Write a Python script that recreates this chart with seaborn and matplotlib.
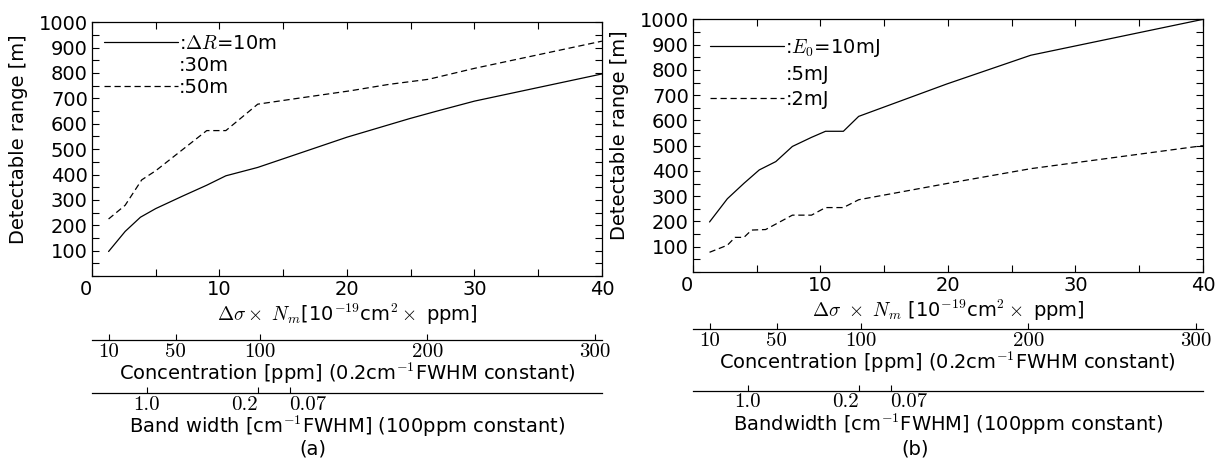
import numpy as np
import pandas as pd
import matplotlib
matplotlib.use('Agg')
import matplotlib.pyplot as plt
import seaborn as sns
from matplotlib.lines import Line2D
from matplotlib.ticker import MultipleLocator, NullLocator

# (a) detectable range vs delta sigma x Nm, range resolution
x_a10 = [1.3, 2.6, 3.8, 5.0, 7.1, 9.0, 10.5, 13.0, 20.0, 24.9, 27.0, 30.0, 40.0]
y_a10 = [97, 176, 232, 266, 315, 358, 395, 428, 547, 620, 649, 689, 796]
x_a50 = [1.3, 2.6, 3.9, 5.0, 9.0, 10.5, 13.0, 16.0, 20.3, 23.3, 26.4, 30.0, 40.0]
y_a50 = [225, 279, 379, 415, 573, 573, 677, 699, 730, 755, 775, 818, 925]

# (b) detectable range vs delta sigma x Nm, pulse energy
x_b10 = [1.3, 2.7, 4.0, 5.2, 6.5, 7.8, 9.3, 10.4, 11.8, 13.0, 19.9, 26.5, 40.0]
y_b10 = [198, 290, 351, 404, 437, 497, 533, 557, 557, 616, 744, 858, 1000]
x_b2 = [1.3, 2.7, 3.3, 4.0, 4.6, 5.7, 7.8, 9.3, 10.4, 11.8, 13.0, 19.9, 26.5, 40.0]
y_b2 = [78, 106, 137, 137, 166, 168, 225, 225, 255, 255, 286, 350, 409, 500]

# secondary scales
conc_ticks = [10, 50, 100, 200, 300]
conc_scale = 0.1315          # delta sigma x Nm per ppm
bw_pos = [4.3, 13.0, 15.5]
bw_labels = ['1.0', '0.2', '0.07']

sns.set_style('ticks')
plt.rcParams['font.family'] = 'DejaVu Sans'
plt.rcParams['mathtext.fontset'] = 'cm'
for k in ['text.color', 'axes.labelcolor', 'xtick.color', 'ytick.color',
          'axes.edgecolor']:
    plt.rcParams[k] = 'black'

fig = plt.figure(figsize=(12.17, 4.61), dpi=100)

panels = [
    dict(rect=[0.0756, 0.401, 0.419, 0.551],
         df=pd.concat([pd.DataFrame({'x': x_a10, 'y': y_a10, 's': 'a'}),
                       pd.DataFrame({'x': x_a50, 'y': y_a50, 's': 'c'})]),
         labels=[r':$\Delta R$=10m', ':30m', ':50m'],
         xlabel=r'$\Delta\sigma\times\ N_m$[10$^{-19}$cm$^2\times$ ppm]',
         bwlabel=r'Band width [cm$^{-1}$FWHM] (100ppm constant)',
         conc_loc=-0.252, bw_loc=-0.46, tag='(a)', tagx=0.257,
         legsp=0.15, legpad=0.2),
    dict(rect=[0.5694, 0.41, 0.419, 0.548],
         df=pd.concat([pd.DataFrame({'x': x_b10, 'y': y_b10, 's': 'a'}),
                       pd.DataFrame({'x': x_b2, 'y': y_b2, 's': 'c'})]),
         labels=[r':$E_0$=10mJ', ':5mJ', ':2mJ'],
         xlabel=r'$\Delta\sigma\ \times\ N_m$ [10$^{-19}$cm$^2\times$ ppm]',
         bwlabel=r'Bandwidth [cm$^{-1}$FWHM] (100ppm constant)',
         conc_loc=-0.227, bw_loc=-0.47, tag='(b)', tagx=0.752,
         legsp=0.3, legpad=0.5),
]

for p in panels:
    ax = fig.add_axes(p['rect'])
    sns.lineplot(data=p['df'], x='x', y='y', style='s', color='black',
                 dashes={'a': '', 'c': (5, 3)}, linewidth=0.9,
                 legend=False, ax=ax)
    ax.set_xlim(0, 40)
    ax.set_ylim(0, 1000)
    ax.set_xticks([0, 10, 20, 30, 40])
    ax.xaxis.set_minor_locator(MultipleLocator(5))
    ax.set_yticks(np.arange(100, 1001, 100))
    ax.yaxis.set_minor_locator(MultipleLocator(50))
    ax.tick_params(which='both', direction='in', top=True, right=True,
                   length=5, width=0.8, labelsize=14, pad=3)
    ax.get_xticklabels()[0].set_ha('right')
    ax.set_ylabel('Detectable range [m]', fontsize=14)
    ax.yaxis.set_label_coords(-0.125, 0.54)
    ax.set_xlabel(p['xlabel'], fontsize=14, labelpad=2)
    for sp in ax.spines.values():
        sp.set_linewidth(0.9)

    h = [Line2D([], [], color='black', lw=0.9),
         Line2D([], [], color='none'),
         Line2D([], [], color='black', lw=0.9, ls=(0, (5, 3)))]
    ax.legend(h, p['labels'], loc='upper left', frameon=False, fontsize=14,
              handlelength=3.8, handletextpad=0.05, labelspacing=p['legsp'],
              borderaxespad=p['legpad'])

    sec = ax.secondary_xaxis(p['conc_loc'],
                             functions=(lambda v: v / conc_scale,
                                        lambda c: c * conc_scale))
    sec.set_xticks(conc_ticks)
    sec.xaxis.set_minor_locator(NullLocator())
    sec.tick_params(direction='in', length=4, width=0.8, labelsize=15, pad=2)
    for t in sec.get_xticklabels():
        t.set_fontfamily('cmr10')
    sec.set_xlabel(r'Concentration [ppm] (0.2cm$^{-1}$FWHM constant)',
                   fontsize=14, labelpad=0)
    sec.spines['bottom'].set_linewidth(0.9)

    bw = ax.secondary_xaxis(p['bw_loc'])
    bw.set_xticks(bw_pos, labels=bw_labels)
    bw.xaxis.set_minor_locator(NullLocator())
    bw.tick_params(direction='in', length=4, width=0.8, labelsize=15, pad=2)
    for t in bw.get_xticklabels():
        t.set_fontfamily('cmr10')
    bw.get_xticklabels()[1].set_ha('right')
    bw.get_xticklabels()[2].set_ha('left')
    bw.set_xlabel(p['bwlabel'], fontsize=14, labelpad=0)
    bw.spines['bottom'].set_linewidth(0.9)

    fig.text(p['tagx'], 0.025, p['tag'], fontsize=14, ha='center', va='center')

fig.savefig('out.png', dpi=100)
